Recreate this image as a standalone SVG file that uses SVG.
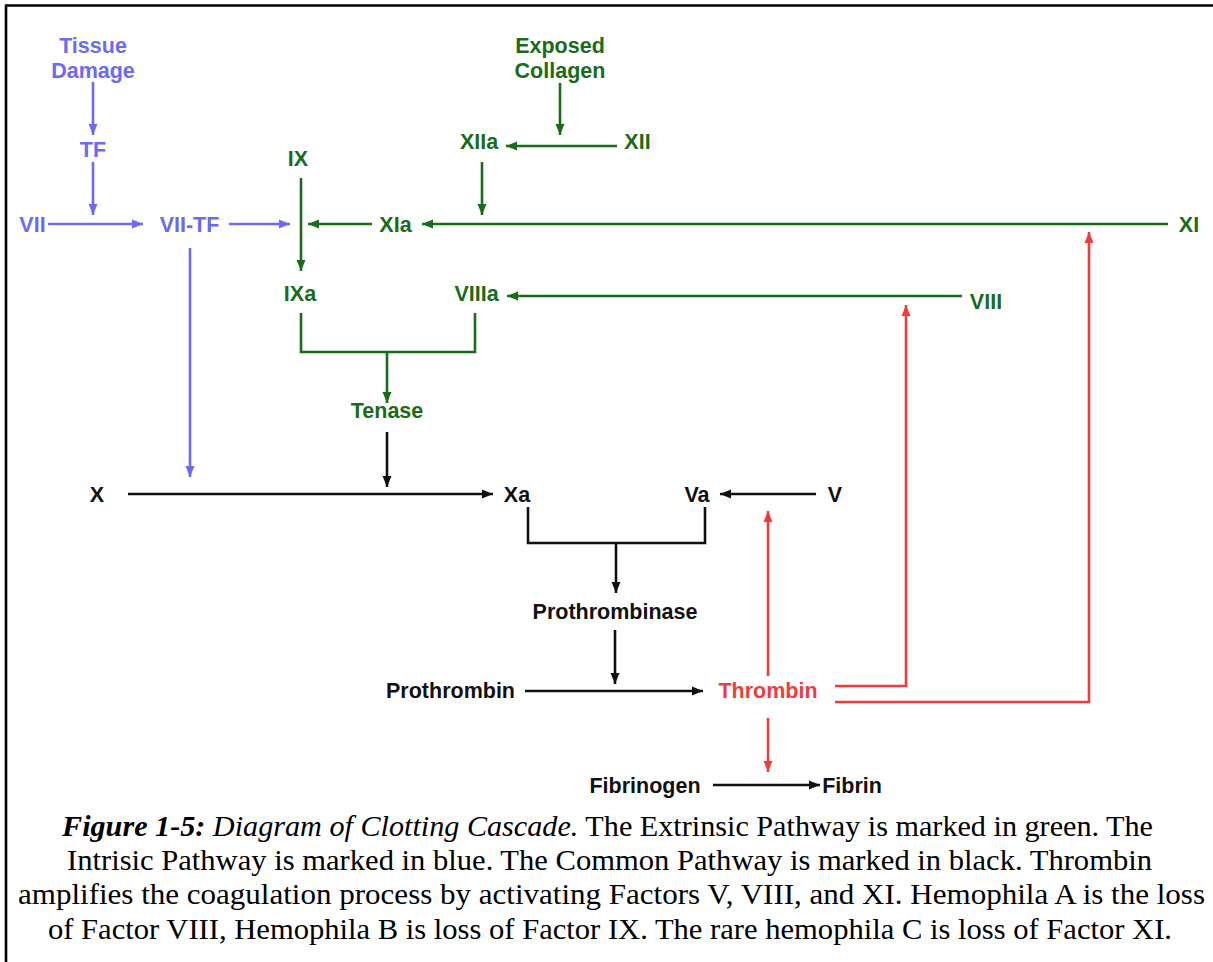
<svg xmlns="http://www.w3.org/2000/svg" width="1213" height="962" viewBox="0 0 1213 962">
<style>
.t{font-family:"Liberation Sans",Arial,sans-serif;font-weight:bold;font-size:21.5px;text-anchor:middle}
.b{fill:#6a6af4}.g{fill:#1a6b1a}.k{fill:#111}.r{fill:#ee3c3c}
.cap{font-family:"Liberation Serif","Times New Roman",serif;font-size:30px;fill:#000;text-anchor:middle}
.lb{stroke:#6a6af4;stroke-width:2.6;fill:none}
.lg{stroke:#1a6b1a;stroke-width:2.6;fill:none}
.lk{stroke:#111;stroke-width:2.6;fill:none}
.lr{stroke:#ee3c3c;stroke-width:2.6;fill:none}
</style>
<defs>
<marker id="ab" markerUnits="userSpaceOnUse" markerWidth="12" markerHeight="10" refX="11" refY="5" orient="auto"><path d="M0,0.5 L11,5 L0,9.5 z" fill="#6a6af4"/></marker>
<marker id="ag" markerUnits="userSpaceOnUse" markerWidth="12" markerHeight="10" refX="11" refY="5" orient="auto"><path d="M0,0.5 L11,5 L0,9.5 z" fill="#1a6b1a"/></marker>
<marker id="ak" markerUnits="userSpaceOnUse" markerWidth="12" markerHeight="10" refX="11" refY="5" orient="auto"><path d="M0,0.5 L11,5 L0,9.5 z" fill="#111"/></marker>
<marker id="ar" markerUnits="userSpaceOnUse" markerWidth="12" markerHeight="10" refX="11" refY="5" orient="auto"><path d="M0,0.5 L11,5 L0,9.5 z" fill="#ee3c3c"/></marker>
</defs>
<rect width="1213" height="962" fill="#fff"/>
<path d="M5,5.5 H1213 M6,5 V962" stroke="#000" stroke-width="2.6" fill="none"/>

<g id="connectors">
<path class="lb" d="M93,82 V135" marker-end="url(#ab)"/>
<path class="lb" d="M93,162 V215" marker-end="url(#ab)"/>
<path class="lb" d="M48,224 H143" marker-end="url(#ab)"/>
<path class="lb" d="M229,224 H290" marker-end="url(#ab)"/>
<path class="lb" d="M190,248 V477" marker-end="url(#ab)"/>
<path class="lg" d="M560,83 V135" marker-end="url(#ag)"/>
<path class="lg" d="M617,146 H506" marker-end="url(#ag)"/>
<path class="lg" d="M482,162 V215" marker-end="url(#ag)"/>
<path class="lg" d="M1168,224 H422" marker-end="url(#ag)"/>
<path class="lg" d="M372,224 H308" marker-end="url(#ag)"/>
<path class="lg" d="M301,178 V271" marker-end="url(#ag)"/>
<path class="lg" d="M962,296 H507" marker-end="url(#ag)"/>
<path class="lg" d="M301,313 V352 H475 V313"/>
<path class="lg" d="M387,352 V403" marker-end="url(#ag)"/>
<path class="lk" d="M387,432 V487" marker-end="url(#ak)"/>
<path class="lk" d="M128,494 H493" marker-end="url(#ak)"/>
<path class="lk" d="M816,494 H720" marker-end="url(#ak)"/>
<path class="lk" d="M528,507 V543 H705 V507"/>
<path class="lk" d="M616,543 V593" marker-end="url(#ak)"/>
<path class="lk" d="M615,630 V684" marker-end="url(#ak)"/>
<path class="lk" d="M525,691 H703" marker-end="url(#ak)"/>
<path class="lk" d="M713,785 H820" marker-end="url(#ak)"/>
<path class="lr" d="M768,676 V511" marker-end="url(#ar)"/>
<path class="lr" d="M835,686 H906 V305" marker-end="url(#ar)"/>
<path class="lr" d="M835,702 H1089 V232" marker-end="url(#ar)"/>
<path class="lr" d="M768,718 V772" marker-end="url(#ar)"/>
</g>

<g id="tissue-damage"><text class="t b" x="93" y="53">Tissue</text><text class="t b" x="93" y="78">Damage</text></g>
<g id="tf"><text class="t b" x="93" y="157">TF</text></g>
<g id="vii"><text class="t b" x="32.5" y="232">VII</text></g>
<g id="vii-tf"><text class="t b" x="189.5" y="232">VII-TF</text></g>
<g id="ix"><text class="t g" x="298" y="166">IX</text></g>
<g id="exposed-collagen"><text class="t g" x="560" y="53">Exposed</text><text class="t g" x="560" y="78">Collagen</text></g>
<g id="xiia"><text class="t g" x="479" y="149">XIIa</text></g>
<g id="xii"><text class="t g" x="637.5" y="149">XII</text></g>
<g id="xia"><text class="t g" x="395.5" y="232">XIa</text></g>
<g id="xi"><text class="t g" x="1189" y="232">XI</text></g>
<g id="ixa"><text class="t g" x="300" y="301">IXa</text></g>
<g id="viiia"><text class="t g" x="476.5" y="301">VIIIa</text></g>
<g id="viii"><text class="t g" x="986" y="309">VIII</text></g>
<g id="tenase"><text class="t g" x="387" y="418">Tenase</text></g>
<g id="x"><text class="t k" x="97" y="502">X</text></g>
<g id="xa"><text class="t k" x="517" y="502">Xa</text></g>
<g id="va"><text class="t k" x="697" y="502">Va</text></g>
<g id="v"><text class="t k" x="835" y="502">V</text></g>
<g id="prothrombinase"><text class="t k" x="615" y="619">Prothrombinase</text></g>
<g id="prothrombin"><text class="t k" x="450.5" y="698">Prothrombin</text></g>
<g id="thrombin"><text class="t r" x="768" y="698">Thrombin</text></g>
<g id="fibrinogen"><text class="t k" x="645" y="793">Fibrinogen</text></g>
<g id="fibrin"><text class="t k" x="852" y="793">Fibrin</text></g>

<g id="caption">
<text class="cap" x="607.5" y="836" textLength="1091" lengthAdjust="spacingAndGlyphs"><tspan font-style="italic" font-weight="bold">Figure 1-5:</tspan><tspan font-style="italic"> Diagram of Clotting Cascade.</tspan> The Extrinsic Pathway is marked in green. The</text>
<text class="cap" x="609.5" y="870" textLength="1085" lengthAdjust="spacingAndGlyphs">Intrisic Pathway is marked in blue. The Common Pathway is marked in black. Thrombin</text>
<text class="cap" x="611.5" y="904" textLength="1187" lengthAdjust="spacingAndGlyphs">amplifies the coagulation process by activating Factors V, VIII, and XI. Hemophila A is the loss</text>
<text class="cap" x="610" y="939" textLength="1124" lengthAdjust="spacingAndGlyphs">of Factor VIII, Hemophila B is loss of Factor IX. The rare hemophila C is loss of Factor XI.</text>
</g>
</svg>
